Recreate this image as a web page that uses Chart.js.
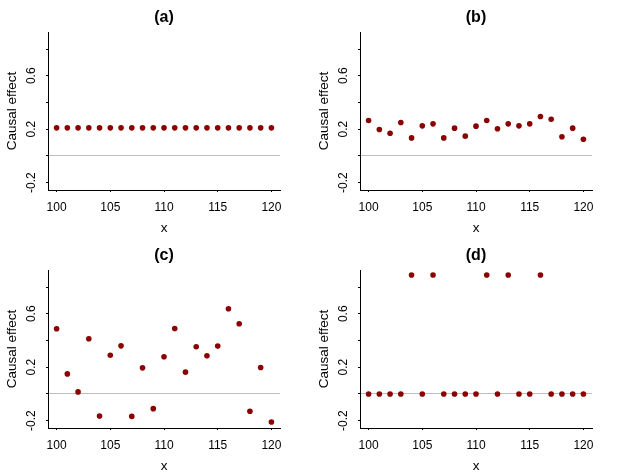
<!DOCTYPE html>
<html>
<head>
<meta charset="utf-8">
<script src="https://cdn.jsdelivr.net/npm/chart.js@4/dist/chart.umd.min.js"></script>
<style>
  body { margin: 0; background: #fff; }
  #wrap { position: relative; width: 624px; height: 476px; }
  .panel { position: absolute; width: 312px; height: 238px; }
</style>
</head>
<body>
<div id="wrap">
  <div class="panel" style="left:0;top:0"><canvas id="pa" width="312" height="238"></canvas></div>
  <div class="panel" style="left:312px;top:0"><canvas id="pb" width="312" height="238"></canvas></div>
  <div class="panel" style="left:0;top:238px"><canvas id="pc" width="312" height="238"></canvas></div>
  <div class="panel" style="left:312px;top:238px"><canvas id="pd" width="312" height="238"></canvas></div>
</div>
<script>
var xs = [100, 101, 102, 103, 104, 105, 106, 107, 108, 109, 110,
          111, 112, 113, 114, 115, 116, 117, 118, 119, 120]
var effectA = [0.21, 0.21, 0.21, 0.21, 0.21, 0.21, 0.21, 0.21, 0.21, 0.21, 0.21,
               0.21, 0.21, 0.21, 0.21, 0.21, 0.21, 0.21, 0.21, 0.21, 0.21]
var effectB = [0.265, 0.198, 0.17, 0.25, 0.135, 0.225, 0.24, 0.135, 0.208, 0.148, 0.223,
               0.265, 0.203, 0.24, 0.225, 0.24, 0.295, 0.275, 0.143, 0.208, 0.125]
var effectC = [0.488, 0.15, 0.015, 0.413, -0.165, 0.29, 0.36, -0.168, 0.195, -0.11, 0.278,
               0.49, 0.163, 0.353, 0.285, 0.358, 0.638, 0.525, -0.13, 0.198, -0.21]
var effectD = [0, 0, 0, 0, 0.89, 0, 0.89, 0, 0, 0, 0,
               0.89, 0, 0.89, 0, 0, 0.89, 0, 0, 0, 0]
var yTickLabels = [-0.2, 0.2, 0.6]
var panelTitles = ['(a)', '(b)', '(c)', '(d)']

var fontFam = '"Liberation Sans", Arial, Helvetica, sans-serif'

// panel title + rotated y tick labels (R style)
var rStyleText = {
    id: 'rStyleText',
    afterDraw: function (chart, args, opts) {
        var ctx = chart.ctx
        var area = chart.chartArea
        var y = chart.scales.y
        ctx.save()
        ctx.fillStyle = '#000'
        ctx.font = 'bold 16px ' + fontFam
        ctx.textAlign = 'center'
        ctx.textBaseline = 'middle'
        ctx.fillText(opts.title, (area.left + area.right) / 2, 18)
        ctx.font = '12px ' + fontFam
        for (var i = 0; i < yTickLabels.length; i++) {
            var py = y.getPixelForValue(yTickLabels[i])
            ctx.save()
            ctx.translate(32, py)
            ctx.rotate(-Math.PI / 2)
            ctx.fillText(String(yTickLabels[i]), 0, 0)
            ctx.restore()
        }
        ctx.restore()
    }
}

function makePanel(id, title, values) {
    var pts = []
    for (var i = 0; i < xs.length; i++) {
        pts.push({ x: xs[i], y: values[i] })
    }
    return new Chart(document.getElementById(id).getContext('2d'), {
        type: 'scatter',
        data: {
            datasets: [{
                data: pts,
                backgroundColor: '#8b0000',
                borderWidth: 0,
                pointRadius: 2.8,
                pointHoverRadius: 2.8
            }]
        },
        options: {
            responsive: false,
            animation: false,
            events: [],
            layout: { padding: { top: 32, right: 32, left: 0, bottom: 0 } },
            plugins: {
                legend: { display: false },
                tooltip: { enabled: false },
                rStyleText: { title: title }
            },
            scales: {
                x: {
                    type: 'linear',
                    min: 99.2,
                    max: 120.8,
                    afterFit: function (s) { s.height = 48 },
                    border: { display: true, color: '#000', width: 1 },
                    grid: { drawOnChartArea: false, drawTicks: true, tickLength: 2, tickColor: '#000' },
                    ticks: {
                        stepSize: 5,
                        includeBounds: false,
                        padding: 8,
                        color: '#000',
                        font: { family: fontFam, size: 12 },
                        maxRotation: 0
                    },
                    title: {
                        display: true,
                        text: 'x',
                        color: '#000',
                        font: { family: fontFam, size: 13.5 },
                        padding: { top: 0, bottom: 2 }
                    }
                },
                y: {
                    type: 'linear',
                    min: -0.255,
                    max: 0.9275,
                    afterFit: function (s) { s.width = 48 },
                    border: { display: true, color: '#000', width: 1 },
                    grid: {
                        drawOnChartArea: true,
                        drawTicks: true,
                        tickLength: 2,
                        tickColor: '#000',
                        color: function (c) {
                            return c.tick && Math.abs(c.tick.value) < 1e-9 ? '#bebebe' : 'rgba(0,0,0,0)'
                        }
                    },
                    ticks: { stepSize: 0.2, includeBounds: false, display: false },
                    title: {
                        display: true,
                        text: 'Causal effect',
                        color: '#000',
                        font: { family: fontFam, size: 13.5 },
                        padding: { top: 4, bottom: 0 }
                    }
                }
            }
        },
        plugins: [rStyleText]
    })
}

makePanel('pa', panelTitles[0], effectA)
makePanel('pb', panelTitles[1], effectB)
makePanel('pc', panelTitles[2], effectC)
makePanel('pd', panelTitles[3], effectD)
</script>
</body>
</html>
